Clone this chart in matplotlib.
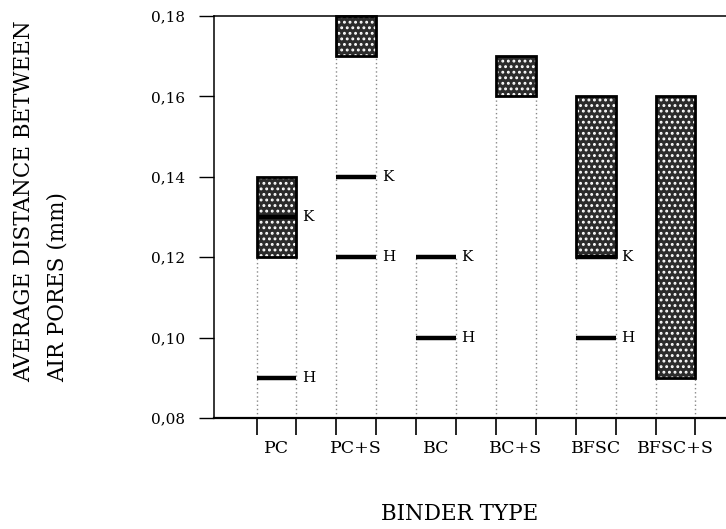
import numpy as np
import matplotlib
matplotlib.use("Agg")
import matplotlib.pyplot as plt
from matplotlib.patches import Rectangle

# binder types and measured air-pore spacing (mm)
binders = ["PC", "PC+S", "BC", "BC+S", "BFSC", "BFSC+S"]
range_lo = [0.12, 0.17, np.nan, 0.16, 0.12, 0.09]
range_hi = [0.14, 0.18, np.nan, 0.17, 0.16, 0.16]
k_vals = [0.13, 0.14, 0.12, np.nan, 0.12, np.nan]
h_vals = [0.09, 0.12, 0.10, np.nan, 0.10, np.nan]
yticks = [0.08, 0.10, 0.12, 0.14, 0.16, 0.18]

plt.rcParams["font.family"] = "DejaVu Serif"
plt.rcParams["hatch.linewidth"] = 1.3

fig = plt.figure(figsize=(7.26, 5.29), dpi=100)
ax = fig.add_axes([214 / 726, 1 - 418 / 529, 1 - 214 / 726, (418 - 16) / 529])

half = 0.25
ymin = 0.08
for i, name in enumerate(binders):
    x0, x1 = i - half, i + half
    lo, hi, k, h = range_lo[i], range_hi[i], k_vals[i], h_vals[i]

    # dotted guides from the base up to the lowest drawn element
    top = lo if not np.isnan(lo) else np.nanmax([k, h])
    for xe in (x0, x1):
        ax.plot([xe, xe], [ymin, top], color="#888888", lw=1.0,
                ls=(0, (1, 2)), zorder=1)

    # stippled range box
    if not np.isnan(lo):
        ax.add_patch(Rectangle((x0, lo), 2 * half, hi - lo, facecolor="#2c2c2c",
                               edgecolor="white", hatch="...", lw=0, zorder=2))
        ax.add_patch(Rectangle((x0, lo), 2 * half, hi - lo, facecolor="none",
                               edgecolor="black", lw=2.0, zorder=3, clip_on=False))

    for val, tag in ((k, "K"), (h, "H")):
        if np.isnan(val):
            continue
        ax.plot([x0, x1], [val, val], color="black", lw=3.2,
                solid_capstyle="butt", zorder=4)
        ax.annotate(tag, (x1, val), xytext=(4, 0), textcoords="offset points",
                    ha="left", va="center", fontsize=11)

ax.set_xlim((214 - 276.5) / 79.8, (726 - 276.5) / 79.8)
ax.set_ylim(0.08, 0.18)

ax.set_yticks(yticks)
ax.set_yticklabels([f"{v:.2f}".replace(".", ",") for v in yticks], fontsize=11)
ax.tick_params(axis="y", direction="out", length=11, width=1.0, pad=10)

edges = [e for i in range(len(binders)) for e in (i - half, i + half)]
ax.set_xticks(edges)
ax.set_xticklabels([])
ax.tick_params(axis="x", which="major", direction="out", length=12, width=1.2)
ax.set_xticks(range(len(binders)), minor=True)
ax.set_xticklabels(binders, minor=True, fontsize=12.5)
ax.tick_params(axis="x", which="minor", length=0, pad=16)

ax.spines["right"].set_visible(False)
ax.spines["top"].set_linewidth(1.1)
ax.spines["left"].set_linewidth(1.1)
ax.spines["bottom"].set_linewidth(1.6)

fig.text(24 / 726, 1 - 382 / 529, "AVERAGE DISTANCE BETWEEN", rotation=90,
         ha="center", va="bottom", fontsize=15.5)
fig.text(58 / 726, 1 - 382 / 529, "AIR PORES (mm)", rotation=90,
         ha="center", va="bottom", fontsize=15.5)
fig.text(460 / 726, 1 - 514 / 529, "BINDER TYPE", ha="center", va="center",
         fontsize=15.5)

fig.savefig("out.png", dpi=100)
